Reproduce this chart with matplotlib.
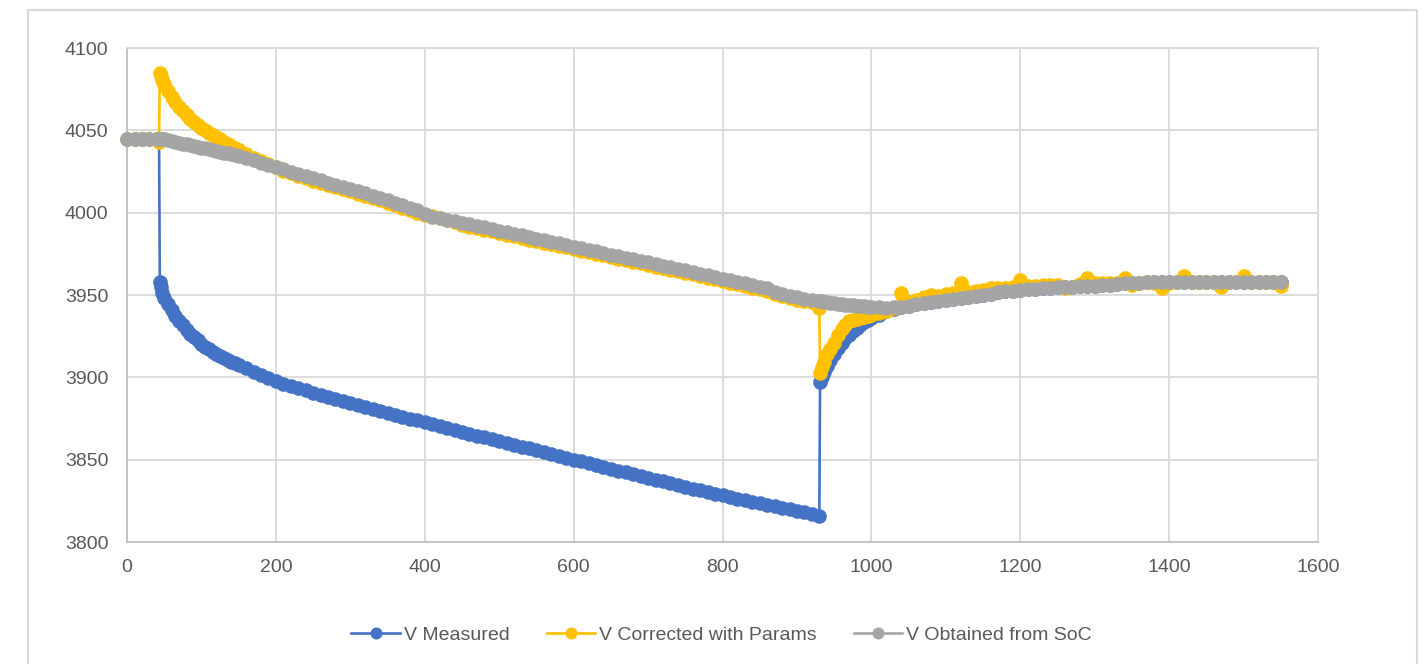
import matplotlib.pyplot as plt
from matplotlib.lines import Line2D

plt.rcParams['font.family'] = ['Liberation Sans', 'DejaVu Sans']

# time (s); denser sampling where the curves move fast
time = [0, 10, 20, 30, 40, 43, 44,
        45, 47, 50, 55, 60, 65, 70, 75, 80, 85, 90, 95,
        100, 105, 110, 115, 120, 125, 130, 135, 140, 145,
        150, 160, 170, 180, 190, 200, 210, 220, 230, 240,
        250, 260, 270, 280, 290, 300, 310, 320, 330, 340,
        350, 360, 370, 380, 390, 400, 410, 420, 430, 440,
        450, 460, 470, 480, 490, 500, 510, 520, 530, 540,
        550, 560, 570, 580, 590, 600, 610, 620, 630, 640,
        650, 660, 670, 680, 690, 700, 710, 720, 730, 740,
        750, 760, 770, 780, 790, 800, 810, 820, 830, 840,
        850, 860, 870, 880, 890, 900, 910, 920, 930,
        931, 933, 936, 940, 945, 950, 955, 960, 965, 970,
        975, 980, 985, 990, 995, 1000, 1010, 1020, 1030,
        1040, 1050, 1060, 1070, 1080, 1090, 1100, 1110, 1120, 1130,
        1140, 1150, 1160, 1170, 1180, 1190, 1200, 1210, 1220, 1230,
        1240, 1250, 1260, 1270, 1280, 1290, 1300, 1310, 1320, 1330,
        1340, 1350, 1360, 1370, 1380, 1390, 1400, 1410, 1420, 1430,
        1440, 1450, 1460, 1470, 1480, 1490, 1500, 1510, 1520, 1530,
        1540, 1550]

v_measured = [4045, 4045, 4045, 4045, 4045, 4044, 3958,
              3955, 3951, 3948, 3944.5, 3941, 3937.5, 3934.5, 3931.5, 3929, 3926.5, 3924.5, 3922.5,
              3920.5, 3918.7, 3917, 3915.5, 3914, 3912.7, 3911.5, 3910.5, 3909.5, 3908.5,
              3907.5, 3905.5, 3903.5, 3901.5, 3899.5, 3897.5, 3896, 3894.7, 3893.4, 3892.1,
              3890.8, 3889.5, 3888.2, 3887, 3885.8, 3884.6, 3883.4, 3882.2, 3881, 3879.8,
              3878.6, 3877.4, 3876.2, 3875, 3873.8, 3872.6, 3871.4, 3870.2, 3869, 3867.9,
              3866.8, 3865.7, 3864.6, 3863.5, 3862.4, 3861.3, 3860.2, 3859.1, 3858, 3856.9,
              3855.6, 3854.5, 3853.4, 3852.3, 3851.1, 3850, 3848.9, 3847.8, 3846.7, 3845.6,
              3844.5, 3843.4, 3842.3, 3841.2, 3840.1, 3839, 3837.9, 3836.8, 3835.7, 3834.6,
              3833.5, 3832.4, 3831.3, 3830.3, 3829.3, 3828.3, 3827.3, 3826.3, 3825.4, 3824.5,
              3823.6, 3822.7, 3821.8, 3820.9, 3820, 3819.1, 3818.2, 3817.3, 3815.8,
              3897, 3900.5, 3903.5, 3907, 3910.7, 3914, 3917.6, 3921, 3923.6, 3926,
              3928, 3930, 3931.8, 3933.5, 3934.8, 3936, 3938, 3940, 3941.5,
              3942.5, 3943.5, 3944.3, 3945, 3945.7, 3946.4, 3947, 3947.6, 3948.2, 3948.8,
              3949.5, 3950.2, 3950.9, 3951.6, 3952.2, 3952.7, 3953.1, 3953.5, 3953.9, 3954.2,
              3954.4, 3954.6, 3954.8, 3955, 3955.2, 3955.4, 3955.6, 3955.8, 3956.1, 3956.6,
              3957.2, 3957.5, 3957.6, 3957.7, 3957.7, 3957.8, 3957.8, 3957.9, 3957.9, 3958,
              3958, 3958, 3958, 3958, 3958, 3958, 3958, 3958, 3958, 3958,
              3958, 3958]

v_corrected = [4045, 4045, 4045, 4045, 4045, 4043, 4085,
               4083, 4080.5, 4078, 4074, 4070, 4067, 4064, 4061.5, 4059.5, 4057, 4055, 4053,
               4051.5, 4050, 4048.5, 4047.2, 4046, 4044.5, 4043, 4041.7, 4040.5, 4039.2,
               4038, 4035.5, 4033.5, 4031.5, 4029.5, 4027.5, 4025.5, 4023.8, 4022.2, 4020.8,
               4019.4, 4018.1, 4016.8, 4015.5, 4014.2, 4012.9, 4011.6, 4010.2, 4008.8, 4007.4,
               4006, 4004.5, 4003, 4001.5, 4000, 3998.7, 3997.8, 3996.8, 3995.6, 3994.3,
               3992.4, 3991.5, 3990.5, 3989.5, 3988.6, 3987.6, 3986.6, 3985.6, 3984.7, 3983.7,
               3982.7, 3981.7, 3980.8, 3979.8, 3978.9, 3977.9, 3976.9, 3976, 3975, 3974.1,
               3973.1, 3972.1, 3971.2, 3970.2, 3969.3, 3968.3, 3967.3, 3966.4, 3965.4, 3964.5,
               3963.5, 3962.5, 3961.5, 3960.5, 3959.5, 3958.5, 3957.5, 3956.5, 3955.5, 3954.5,
               3953.5, 3952.5, 3950.5, 3949.3, 3948.2, 3947.2, 3946.3, 3945.5, 3942,
               3902.5, 3906, 3909.5, 3914, 3917.5, 3921, 3925.5, 3929.5, 3932, 3934,
               3934.8, 3935.5, 3936, 3936.5, 3937.2, 3937.8, 3939, 3940.3, 3942,
               3951.5, 3946, 3947, 3948.5, 3950, 3949.5, 3950.5, 3951, 3957, 3952,
               3952.5, 3953, 3954, 3954.5, 3954.5, 3955, 3959, 3955.5, 3955.5, 3956,
               3956, 3956, 3954.5, 3955, 3956.5, 3960.5, 3957, 3957, 3957, 3957.5,
               3960.5, 3956, 3957.5, 3958, 3957.5, 3954.5, 3957.5, 3958, 3961.5, 3958,
               3958, 3958, 3958, 3955, 3958, 3958, 3961.5, 3958, 3958, 3958,
               3958, 3955.5]

v_soc = [4045, 4045, 4045, 4045, 4045, 4045, 4045,
         4045, 4044.8, 4044.5, 4044, 4043.5, 4043, 4042.5, 4042, 4041.5, 4041, 4040.5, 4040,
         4039.5, 4039, 4038.5, 4038, 4037.5, 4037, 4036.5, 4036, 4035.5, 4034.9,
         4034.3, 4033, 4031.7, 4030.4, 4029, 4027.7, 4026.3, 4025, 4023.6, 4022.2,
         4020.9, 4019.6, 4018.3, 4017, 4015.7, 4014.4, 4013.1, 4011.7, 4010.3, 4008.9,
         4007.5, 4006, 4004.5, 4003, 4001.5, 3999.5, 3997.6, 3996.5, 3995.6, 3994.8,
         3993.9, 3993, 3992, 3991, 3990.1, 3989.1, 3988.1, 3987.1, 3986.2, 3985.2,
         3984.2, 3983.2, 3982.3, 3981.3, 3980.4, 3979.4, 3978.4, 3977.5, 3976.5, 3975.6,
         3974.6, 3973.6, 3972.7, 3971.7, 3970.8, 3969.8, 3968.8, 3967.9, 3966.9, 3966,
         3965, 3964, 3963, 3962, 3961, 3960, 3959, 3958, 3957, 3956,
         3955, 3954, 3952, 3950.8, 3949.7, 3948.7, 3947.8, 3947, 3946.3,
         3946.2, 3946.1, 3946, 3945.6, 3945.3, 3945, 3944.7, 3944.5, 3944.2, 3944,
         3943.8, 3943.6, 3943.4, 3943.2, 3943, 3942.9, 3942.6, 3942.4, 3942.6,
         3943, 3943.6, 3944.3, 3945, 3945.7, 3946.4, 3947, 3947.6, 3948.2, 3948.8,
         3949.5, 3950.2, 3950.9, 3951.6, 3952.2, 3952.7, 3953.1, 3953.5, 3953.9, 3954.2,
         3954.4, 3954.6, 3954.8, 3955, 3955.2, 3955.4, 3955.6, 3955.8, 3956.1, 3956.6,
         3957.2, 3957.5, 3957.6, 3957.7, 3957.7, 3957.8, 3957.8, 3957.9, 3957.9, 3958,
         3958, 3958, 3958, 3958, 3958, 3958, 3958, 3958, 3958, 3958,
         3958, 3958]

fig = plt.figure(figsize=(14.26, 6.64), dpi=100)
ax = fig.add_axes([0.0891, 0.1837, 0.8352, 0.744])

ax.plot(time, v_measured, color='#4472C4', marker='o', ms=9.5, lw=1.9,
        label='V Measured', clip_on=False, zorder=3)
ax.plot(time, v_corrected, color='#FFC000', marker='o', ms=9.5, lw=1.9,
        label='V Corrected with Params', clip_on=False, zorder=4)
ax.plot(time, v_soc, color='#A5A5A5', marker='o', ms=9.5, lw=1.9,
        label='V Obtained from SoC', clip_on=False, zorder=5)

ax.set_xlim(0, 1600)
ax.set_ylim(3800, 4100)
ax.set_xticks(range(0, 1601, 200))
ax.set_yticks(range(3800, 4101, 50))
ax.grid(color='#D9D9D9', lw=1.3)
ax.set_axisbelow(True)
for side in ['top', 'right']:
    ax.spines[side].set_color('#D9D9D9')
for side in ['left', 'bottom']:
    ax.spines[side].set_color('#BFBFBF')
for s in ax.spines.values():
    s.set_linewidth(1.3)
ax.tick_params(length=0, labelsize=14, labelcolor='#595959')
ax.tick_params(axis='y', pad=13.5)
ax.tick_params(axis='x', pad=12)

# outer chart frame
fig.add_artist(Line2D([0.0196, 0.0196, 0.9937, 0.9937], [0, 0.985, 0.985, 0],
                      transform=fig.transFigure, color='#D9D9D9', lw=1.5))

fig.legend(loc='center', bbox_to_anchor=(0.506, 0.044), ncol=3, frameon=False,
           fontsize=14, handlelength=2.5, columnspacing=1.9, handletextpad=0.2,
           labelcolor='#595959', markerscale=0.8)

fig.savefig('out.png', dpi=100)
